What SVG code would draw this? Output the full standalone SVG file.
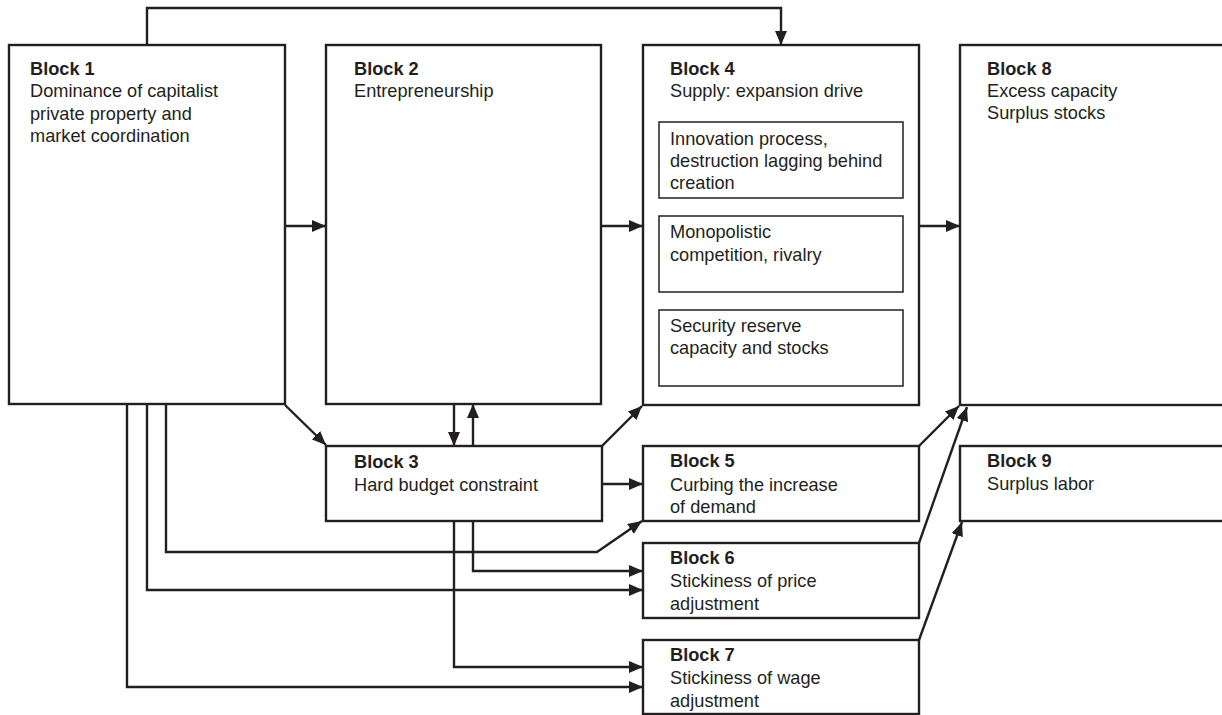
<svg xmlns="http://www.w3.org/2000/svg" width="1222" height="715" viewBox="0 0 1222 715">
<style>
.box{fill:#fff;stroke:#231f20;stroke-width:2.4}
.inner{fill:#fff;stroke:#231f20;stroke-width:1.5}
text{font-family:"Liberation Sans",Arial,sans-serif;font-size:18.2px;fill:#231f20}
.b{font-weight:bold}
.c{fill:none;stroke:#231f20;stroke-width:2.4;marker-end:url(#ah)}
</style>
<defs>
<marker id="ah" viewBox="0 0 14 12" refX="14" refY="6" markerWidth="14" markerHeight="12" markerUnits="userSpaceOnUse" orient="auto">
<path d="M0,0 L14,6 L0,12 Z" fill="#231f20"/>
</marker>
</defs>
<rect width="1222" height="715" fill="#fff"/>
<g id="block1">
<rect class="box" x="9" y="45" width="276" height="359"/>
<text x="30" y="75" class="b">Block 1</text>
<text x="30" y="97">Dominance of capitalist</text>
<text x="30" y="120">private property and</text>
<text x="30" y="142">market coordination</text>
</g>
<g id="block2">
<rect class="box" x="326" y="45" width="275" height="359"/>
<text x="354" y="75" class="b">Block 2</text>
<text x="354" y="97">Entrepreneurship</text>
</g>
<g id="block4">
<rect class="box" x="643" y="45" width="276" height="360"/>
<text x="670" y="75" class="b">Block 4</text>
<text x="670" y="97">Supply: expansion drive</text>
<rect class="inner" x="659" y="122" width="244" height="76"/>
<text x="670" y="145">Innovation process,</text>
<text x="670" y="167">destruction lagging behind</text>
<text x="670" y="189">creation</text>
<rect class="inner" x="659" y="216" width="244" height="76"/>
<text x="670" y="238">Monopolistic</text>
<text x="670" y="261">competition, rivalry</text>
<rect class="inner" x="659" y="310" width="244" height="76"/>
<text x="670" y="332">Security reserve</text>
<text x="670" y="354">capacity and stocks</text>
</g>
<g id="block8">
<rect class="box" x="960" y="45" width="270" height="360"/>
<text x="987" y="75" class="b">Block 8</text>
<text x="987" y="97">Excess capacity</text>
<text x="987" y="119">Surplus stocks</text>
</g>
<g id="block3">
<rect class="box" x="326" y="446" width="276" height="75"/>
<text x="354" y="468" class="b">Block 3</text>
<text x="354" y="491">Hard budget constraint</text>
</g>
<g id="block5">
<rect class="box" x="643" y="446" width="276" height="75"/>
<text x="670" y="467" class="b">Block 5</text>
<text x="670" y="491">Curbing the increase</text>
<text x="670" y="513">of demand</text>
</g>
<g id="block6">
<rect class="box" x="643" y="543" width="276" height="75"/>
<text x="670" y="564" class="b">Block 6</text>
<text x="670" y="587">Stickiness of price</text>
<text x="670" y="610">adjustment</text>
</g>
<g id="block7">
<rect class="box" x="643" y="640" width="276" height="74"/>
<text x="670" y="661" class="b">Block 7</text>
<text x="670" y="684">Stickiness of wage</text>
<text x="670" y="707">adjustment</text>
</g>
<g id="block9">
<rect class="box" x="960" y="446" width="270" height="75"/>
<text x="987" y="467" class="b">Block 9</text>
<text x="987" y="490">Surplus labor</text>
</g>
<g id="connectors">
<path class="c" d="M147,45 V8 H781 V45"/>
<path class="c" d="M285,226 H326"/>
<path class="c" d="M601,226 H643"/>
<path class="c" d="M919,226 H960"/>
<path class="c" d="M285,405 L326,445"/>
<path class="c" d="M454,404 V446"/>
<path class="c" d="M473,446 V404"/>
<path class="c" d="M602,446 L642,406"/>
<path class="c" d="M602,484 H643"/>
<path class="c" d="M919,446 L959,406"/>
<path class="c" d="M919,543 L967,407"/>
<path class="c" d="M919,640 L962,522"/>
<path class="c" d="M166,404 V552 H597 L642,521"/>
<path class="c" d="M473,521 V571 H643"/>
<path class="c" d="M147,404 V590 H643"/>
<path class="c" d="M454,521 V667 H643"/>
<path class="c" d="M127,404 V687 H643"/>
</g>
</svg>
